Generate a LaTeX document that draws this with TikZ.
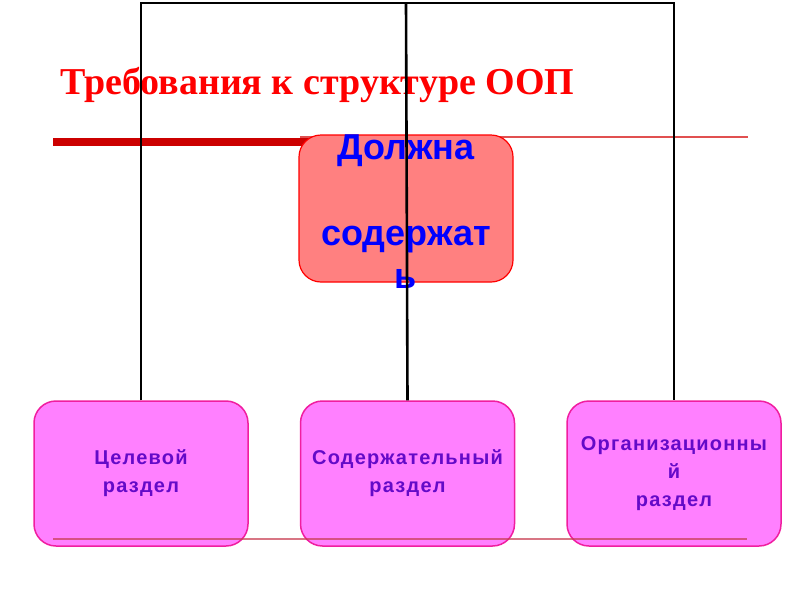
\documentclass[tikz,border=0pt]{standalone}
\usepackage{fontspec}
\setmainfont{Liberation Sans}
\newfontfamily\titlefont{Liberation Serif}
\newfontfamily\partfont[LetterSpace=6]{Liberation Sans}
\usetikzlibrary{positioning}
\definecolor{boxpink}{RGB}{255,128,255}
\definecolor{boxrim}{RGB}{240,30,160}
\definecolor{toppink}{RGB}{255,128,128}
\definecolor{partviolet}{RGB}{100,10,200}
\definecolor{rulered}{RGB}{204,0,0}
\definecolor{thinred}{RGB}{225,80,80}
\definecolor{footred}{RGB}{200,60,80}

\begin{document}
\begin{tikzpicture}[
    x=1pt, y=-1pt,
    part/.style={draw=boxrim, fill=boxpink, line width=1.5pt, rounded corners=22pt,
      minimum width=214pt, minimum height=145pt, align=center, text=partviolet,
      font=\partfont\bfseries\fontsize{20}{28}\selectfont},
    must/.style={draw=red, fill=toppink, line width=1.2pt, rounded corners=22pt,
      minimum width=214pt, minimum height=147pt},
    link/.style={line width=2.6pt, black},
    node distance=51pt
  ]
  \useasboundingbox (0,0) rectangle (800,600);

  % title and rules
  \draw[thinred, line width=1.1pt] (300,137) -- (748,137);
  \draw[rulered, line width=8pt] (53,141.5) -- (340,141.5);
  \node[anchor=base west, inner sep=0, text=red, font=\titlefont\bfseries\fontsize{38}{44}\selectfont]
    (title) at (60,94) {Требования к структуре ООП};

  % top box
  \node[must] (must) at (406,208.5) {};
  \node[align=center, text=blue, font=\bfseries\fontsize{36}{43}\selectfont]
    (mustlabel) at (406,212) {Должна\\[43pt]содержат\\ь};

  % bottom boxes
  \node[part] (goal) at (141,473.5) {Целевой\\раздел};
  \node[part, right=of goal] (content) {Содержательный\\раздел};
  \node[part, right=of content] (org) {Организационны\\й\\раздел};

  % frame lines
  \coordinate (top) at (406,3);
  \draw[link] (goal.north) |- (top) -| (org.north);
  \draw[link] (content.north) -- (top);

  \draw[footred, opacity=0.7, line width=1.4pt] (53,539) -- (747,539);
\end{tikzpicture}
\end{document}
